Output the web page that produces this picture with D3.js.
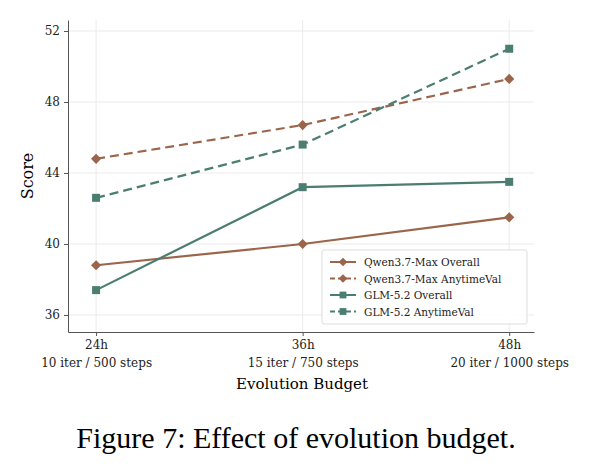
<!DOCTYPE html><html><head><script src="https://cdn.jsdelivr.net/npm/d3@7"></script>
<style>body{margin:0;background:#fff}</style></head><body><svg id="c" width="591" height="471"></svg>
<script>
const categories=["24h","36h","48h"];
const subLabels=["10 iter / 500 steps","15 iter / 750 steps","20 iter / 1000 steps"];
const yTicks=[36,40,44,48,52];
const qwenOverall=[38.8,40.0,41.5];
const qwenAnytime=[44.8,46.7,49.3];
const glmOverall=[37.4,43.2,43.5];
const glmAnytime=[42.6,45.6,51.0];
const brown="#9a654a", teal="#4b7d70";
const series=[
 {name:"Qwen3.7-Max Overall",v:qwenOverall,c:brown,dash:null,m:"diamond"},
 {name:"Qwen3.7-Max AnytimeVal",v:qwenAnytime,c:brown,dash:"9,5",m:"diamond"},
 {name:"GLM-5.2 Overall",v:glmOverall,c:teal,dash:null,m:"square"},
 {name:"GLM-5.2 AnytimeVal",v:glmAnytime,c:teal,dash:"9,5",m:"square"}];
const svg=d3.select("#c");
const L=68,R=534,T=20,B=332;
const x=d3.scaleLinear().domain([-0.136,2.12]).range([L,R]);
const y=d3.scaleLinear().domain([35.04,52.62]).range([B,T]);
const f="DejaVu Serif, serif";
svg.append("g").selectAll("line").data(yTicks).join("line").attr("x1",L).attr("x2",R).attr("y1",d=>y(d)).attr("y2",d=>y(d)).attr("stroke","#ebebeb");
svg.append("g").selectAll("line").data([0,1,2]).join("line").attr("y1",T).attr("y2",B).attr("x1",d=>x(d)).attr("x2",d=>x(d)).attr("stroke","#ebebeb");
const ya=svg.append("g").attr("transform",`translate(${L},0)`).call(d3.axisLeft(y).tickValues(yTicks).tickSize(4).tickSizeOuter(0).tickPadding(4));
const xa=svg.append("g").attr("transform",`translate(0,${B})`).call(d3.axisBottom(x).tickValues([0,1,2]).tickFormat(i=>categories[i]).tickSize(4).tickSizeOuter(0).tickPadding(4));
[ya,xa].forEach(a=>{a.selectAll("text").attr("font-family",f).attr("font-size",12).attr("fill","#222");a.selectAll("line,path").attr("stroke","#555");});
xa.selectAll(".tick").append("text").attr("y",26).attr("dy","0.71em").attr("fill","#222").attr("font-family",f).attr("font-size",12).attr("text-anchor","middle").text(i=>subLabels[i]);
svg.append("text").attr("x",(L+R)/2+1).attr("y",389).attr("text-anchor","middle").attr("font-family",f).attr("font-size",15).text("Evolution Budget");
svg.append("text").attr("transform",`translate(33,${(T+B)/2}) rotate(-90)`).attr("text-anchor","middle").attr("font-family",f).attr("font-size",16).text("Score");
const line=d3.line().x((d,i)=>x(i)).y(d=>y(d));
function marker(g,t,cx,cy,c,s){ s=s||1; if(t==="diamond") g.append("rect").attr("x",-3.6*s).attr("y",-3.6*s).attr("width",7.2*s).attr("height",7.2*s).attr("transform",`translate(${cx},${cy}) rotate(45)`).attr("fill",c);
 else g.append("rect").attr("x",cx-4*s).attr("y",cy-4*s).attr("width",8*s).attr("height",8*s).attr("fill",c);}
series.forEach(s=>{const g=svg.append("g");
 g.append("path").attr("d",line(s.v)).attr("fill","none").attr("stroke",s.c).attr("stroke-width",2.2).attr("stroke-dasharray",s.dash);
 s.v.forEach((d,i)=>marker(g,s.m,x(i),y(d),s.c));});
const lg=svg.append("g").attr("transform","translate(322,250)");
lg.append("rect").attr("width",205).attr("height",74).attr("rx",2).attr("fill","#fff").attr("fill-opacity",0.9).attr("stroke","#ddd");
series.forEach((s,i)=>{const yy=12+i*16.5;
 lg.append("line").attr("x1",8).attr("x2",34).attr("y1",yy).attr("y2",yy).attr("stroke",s.c).attr("stroke-width",2).attr("stroke-dasharray",s.dash?"5,3":null);
 marker(lg,s.m,21,yy,s.c,0.85);
 lg.append("text").attr("x",42).attr("y",yy+4).attr("font-family",f).attr("font-size",10.5).attr("fill","#222").text(s.name);});
svg.append("text").attr("x",296).attr("y",448).attr("text-anchor","middle").attr("font-family","Liberation Serif, serif").attr("font-size",30).text("Figure 7: Effect of evolution budget.");
</script></body></html>
